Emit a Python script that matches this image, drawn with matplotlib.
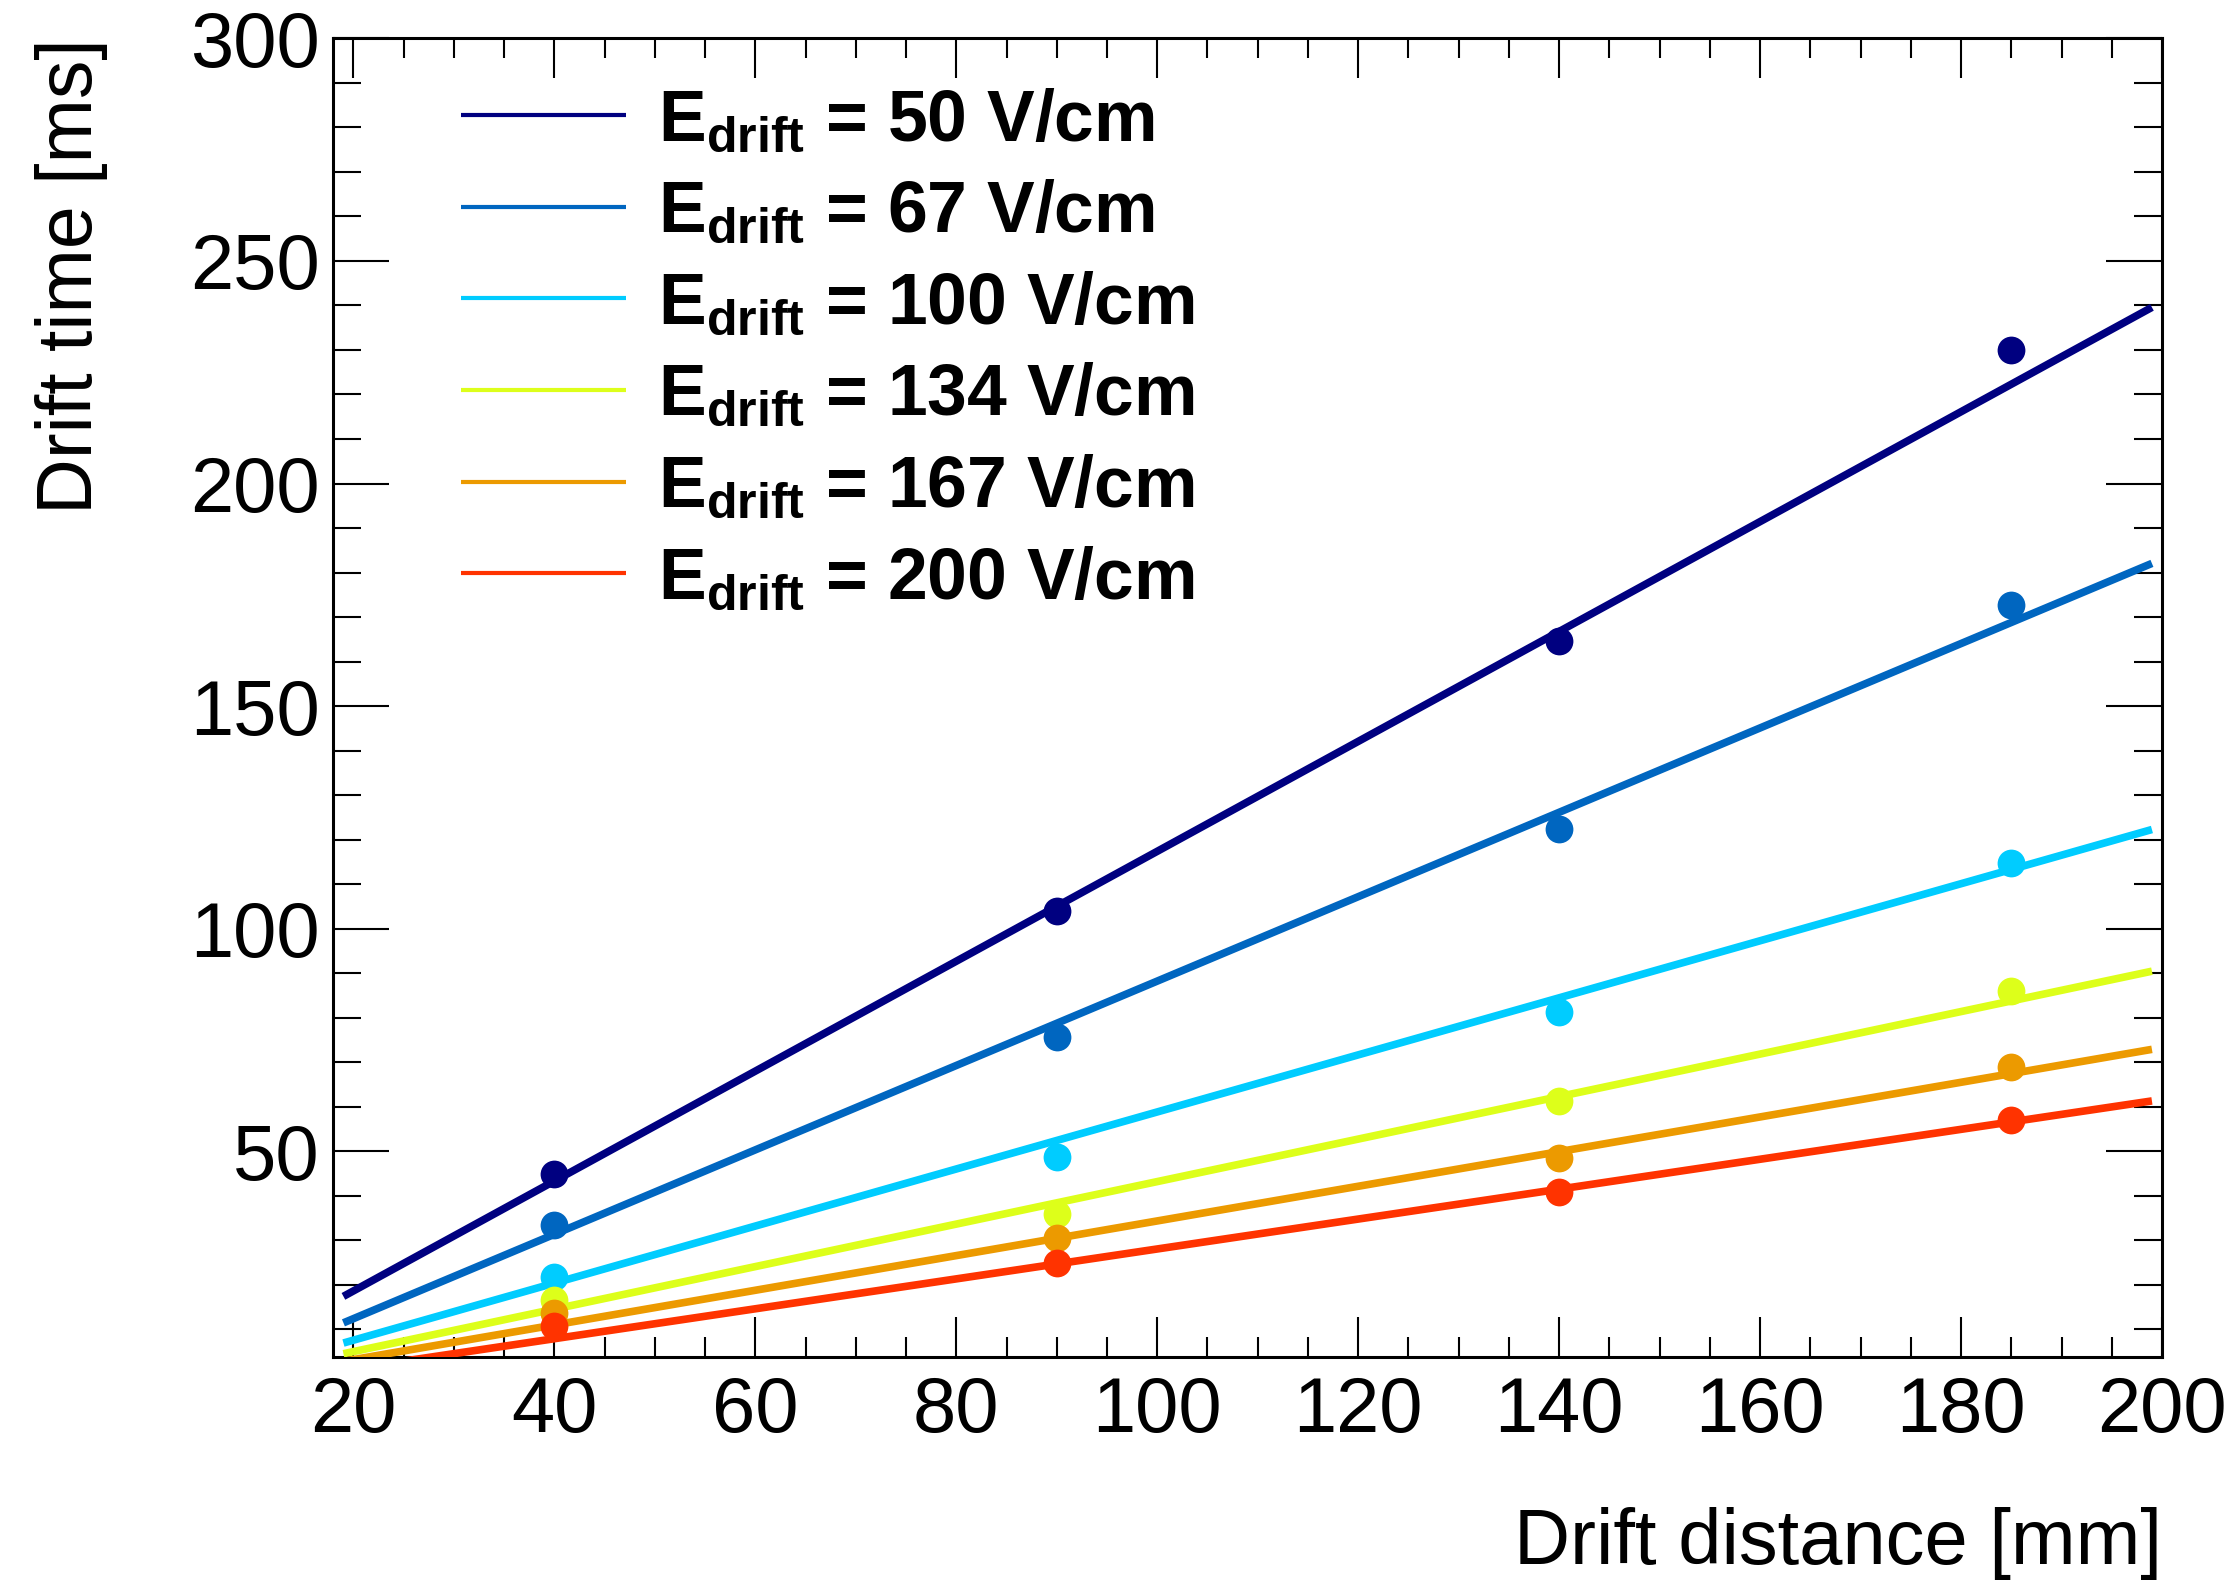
#-*- coding: utf-8 *-*
'''
Drift time versus drift distance for several drift fields,
with the straight line fits.
'''
import numpy as np
import matplotlib
matplotlib.use('Agg')
import matplotlib.pyplot as plt
from matplotlib.ticker import MultipleLocator

# drift distances of the measurements (mm)
distance = [40, 90, 140, 185]

# drift fields (V/cm)
fields = [50, 67, 100, 134, 167, 200]

# measured drift times (ms), one list per field
time_50 = [44.8, 103.9, 164.7, 230.0]
time_67 = [33.4, 75.6, 122.3, 172.7]
time_100 = [21.8, 48.6, 81.3, 114.8]
time_134 = [16.5, 35.8, 61.2, 86.0]
time_167 = [13.7, 30.4, 48.4, 68.8]
time_200 = [10.7, 24.9, 40.8, 57.0]

# fit results t = p0 + p1*d
fit_p0 = [-6.1, -6.6, -5.3, -4.6, -4.63, -5.59]
fit_p1 = [1.2346, 0.948, 0.641, 0.4775, 0.3894, 0.336]
fit_range = (19.0, 199.0)

colors = ['#000080', '#0066c0', '#00ccff', '#ddff1a', '#ec9a00', '#ff3300']

#---------------------------------------------
def decorate(ax):
    ax.set_xlim(18, 200)
    ax.set_ylim(3.8, 300)
    ax.xaxis.set_major_locator(MultipleLocator(20))
    ax.xaxis.set_minor_locator(MultipleLocator(5))
    ax.yaxis.set_major_locator(MultipleLocator(50))
    ax.yaxis.set_minor_locator(MultipleLocator(10))
    ax.tick_params(which='both', direction='in', top=True, right=True,
                   width=1.5, labelsize=56)
    ax.tick_params(axis='x', which='major', length=29, pad=13)
    ax.tick_params(axis='x', which='minor', length=14.5)
    ax.tick_params(axis='y', which='major', length=40, pad=10)
    ax.tick_params(axis='y', which='minor', length=20)
    for s in ax.spines.values():
        s.set_linewidth(2.2)

    ax.set_xlabel('Drift distance [mm]', fontsize=56, loc='right')
    ax.set_ylabel('Drift time [ms]', fontsize=55.5, loc='top')
    ax.xaxis.set_label_coords(1.0, -0.114)
    ax.yaxis.set_label_coords(-0.123, 1.0)

#---------------------------------------------
if __name__ == '__main__':
    plt.rcParams['font.family'] = ['Liberation Sans', 'DejaVu Sans']
    plt.rcParams['mathtext.fontset'] = 'custom'
    plt.rcParams['mathtext.rm'] = 'Liberation Sans'
    plt.rcParams['mathtext.bf'] = 'Liberation Sans:bold'
    plt.rcParams['mathtext.it'] = 'Liberation Sans:italic'

    times = [time_50, time_67, time_100, time_134, time_167, time_200]

    fig = plt.figure(figsize=(22.39, 15.82), dpi=100)
    ax = fig.add_axes([0.1489, 0.1424, 0.8167, 0.8333])

    xf = np.array(fit_range)
    handles = []
    for i in range(len(fields)):
        ax.plot(distance, times[i], 'o', color=colors[i], markersize=20,
                markeredgewidth=0, zorder=3 + 2*i)
        line, = ax.plot(xf, fit_p0[i] + fit_p1[i]*xf, '-', color=colors[i],
                        lw=5.5, solid_capstyle='butt', zorder=4 + 2*i,
                        label=r'$\mathbf{E}_{\mathbf{drift}}$ = %d V/cm' % fields[i])
        handles.append(line)

    leg = ax.legend(handles=handles, loc='upper left',
                    bbox_to_anchor=(0.0698, 0.963), frameon=False,
                    borderpad=0, borderaxespad=0, handlelength=2.3,
                    handletextpad=0.46, labelspacing=0.33,
                    prop={'size': 51.5, 'weight': 'bold'})
    for h in leg.get_lines():
        h.set_linewidth(3)

    decorate(ax)

    fig.savefig('out.png', dpi=100)
